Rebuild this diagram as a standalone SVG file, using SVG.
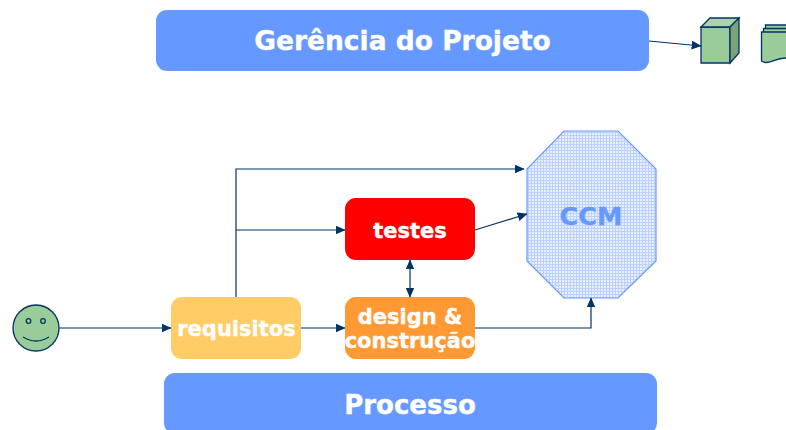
<svg xmlns="http://www.w3.org/2000/svg" width="786" height="430" viewBox="0 0 786 430">
<style>
text{font-family:"DejaVu Sans",Verdana,sans-serif;font-weight:700;fill:#fff;stroke:#fff;stroke-width:.4;text-anchor:middle}
.c{fill:none;stroke:#003366;stroke-width:1.2}
.g{fill:#99cc99;stroke:#003366;stroke-width:1.3}
.f{fill:none;stroke:#003366;stroke-width:1.3}
</style>
<defs>
<marker id="a" viewBox="0 0 8 8" refX="7.500" refY="4" markerWidth="10" markerHeight="10" markerUnits="userSpaceOnUse" orient="auto-start-reverse"><path d="M0 .5L8 4L0 7.500z" fill="#003366"/></marker>
<pattern id="h" width="3" height="3" patternUnits="userSpaceOnUse"><rect width="3" height="3" fill="#e8efff"/><path d="M0 .5H3M.5 0V3" stroke="#bcd0ff" stroke-width="1"/></pattern>
</defs>
<g id="gerencia"><rect x="156" y="10" width="493" height="61" rx="11" fill="#6699ff"/><text x="402.500" y="50" font-size="26.500">Gerência do Projeto</text></g>
<g id="cube"><path class="g" d="M701 27H730V63H701z"/><path d="M701 27L710 18H739L730 27z" fill="#add3ad" stroke="#003366" stroke-width="1.300"/><path d="M730 27L739 18V53L730 63z" fill="#7aa37a" stroke="#003366" stroke-width="1.300"/></g>
<g id="docs"><path class="g" d="M765.500 25H787V34H765.500z"/><path class="g" d="M763.500 28.500H787V37H763.500z"/><path class="g" d="M761.500 32H787V58C776 58 771 63 766 62.500C764 62.500 763 62 761.500 61z"/></g>
<g id="ccm"><path d="M564 131H618L656 169V261L618 298H564L527 261V169z" fill="url(#h)" stroke="#6699ff" stroke-width="1.200"/><text x="591" y="225" font-size="25.500" style="fill:#6699ff;stroke:#6699ff">CCM</text></g>
<g id="testes"><rect x="345" y="198" width="130" height="62" rx="11" fill="#ff0000"/><text x="410" y="238" font-size="21">testes</text></g>
<g id="design"><rect x="345" y="297" width="130" height="62" rx="11" fill="#ff9933"/><text x="410" y="324" font-size="21">design &amp;</text><text x="410" y="348" font-size="21">construção</text></g>
<g id="requisitos"><rect x="171" y="297" width="130" height="62" rx="11" fill="#ffcc66"/><text x="236.500" y="336" font-size="21">requisitos</text></g>
<g id="smiley"><circle class="g" cx="36" cy="328" r="23"/><circle class="f" cx="28.500" cy="321" r="2.300"/><circle class="f" cx="43" cy="321" r="2.300"/><path class="f" d="M23 337Q36 345 49 337"/></g>
<g id="processo"><rect x="164" y="373" width="493" height="61" rx="11" fill="#6699ff"/><text x="410" y="414" font-size="26">Processo</text></g>
<g id="connectors">
<path class="c" d="M649 41L701 46" marker-end="url(#a)"/>
<path class="c" d="M59 328H171" marker-end="url(#a)"/>
<path class="c" d="M301 328H345" marker-end="url(#a)"/>
<path class="c" d="M236 297V169H524" marker-end="url(#a)"/>
<path class="c" d="M236 230H345" marker-end="url(#a)"/>
<path class="c" d="M475 230L527 214" marker-end="url(#a)"/>
<path class="c" d="M410 260V297" marker-start="url(#a)" marker-end="url(#a)"/>
<path class="c" d="M475 328H591V298" marker-end="url(#a)"/>
</g>
</svg>
